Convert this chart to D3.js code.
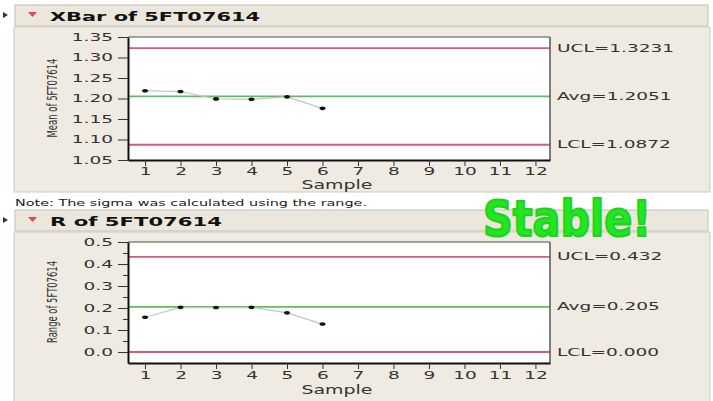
<!DOCTYPE html>
<html><head><meta charset="utf-8">
<script src="https://cdn.jsdelivr.net/npm/d3@7"></script>
<style>
body{margin:0;background:#fff}
svg{display:block}
text{font-family:"DejaVu Sans",sans-serif}
</style>
</head><body>
<svg id="c" width="713" height="401"></svg>
<script>
// ---- data ----
const samples = [1, 2, 3, 4, 5, 6];
const xbarValues = [1.219, 1.217, 1.199, 1.198, 1.204, 1.176];
const rangeValues = [0.158, 0.203, 0.202, 0.203, 0.178, 0.127];
const sampleTicks = [1, 2, 3, 4, 5, 6, 7, 8, 9, 10, 11, 12];
const xbarTicks = [1.05, 1.10, 1.15, 1.20, 1.25, 1.30, 1.35];
const rangeTicks = [0.0, 0.1, 0.2, 0.3, 0.4, 0.5];
const rangeMinorTicks = [0.05, 0.15, 0.25, 0.35, 0.45];
const xbarLimitValues = [1.3231, 1.2051, 1.0872];
const xbarLimitLabels = ["UCL=1.3231", "Avg=1.2051", "LCL=1.0872"];
const rangeLimitValues = [0.432, 0.205, 0.000];
const rangeLimitLabels = ["UCL=0.432", "Avg=0.205", "LCL=0.000"];
const limitKinds = ["limit", "center", "limit"];

const svg = d3.select("#c");
const STRETCH = 1.85;
function stretch(sel, f) {
  sel.each(function () {
    const l = this.getComputedTextLength();
    d3.select(this).attr("textLength", l * f).attr("lengthAdjust", "spacingAndGlyphs");
  });
}

function panel(cfg) {
  const g = svg.append("g");
  // header bar
  g.append("rect").attr("x", 15).attr("y", cfg.hy).attr("width", 693).attr("height", 21)
    .attr("fill", "#ebe7dc").attr("stroke", "#c4c0b4");
  g.append("path").attr("d", `M3,${cfg.hy + 7} L8,${cfg.hy + 10} L3,${cfg.hy + 13}Z`).attr("fill", "#334");
  g.append("path").attr("d", `M28,${cfg.hy + 7} L37,${cfg.hy + 7} L32.5,${cfg.hy + 12}Z`).attr("fill", "#e04858");
  g.append("text").attr("x", 50).attr("y", cfg.hy + 16).attr("font-size", 13).attr("font-weight", "bold")
    .attr("fill", "#111").text(cfg.title).attr("textLength", cfg.titleW).attr("lengthAdjust", "spacingAndGlyphs");
  // body
  g.append("rect").attr("x", 14).attr("y", cfg.hy + 22).attr("width", 696).attr("height", cfg.bh)
    .attr("fill", "#efebe2").attr("stroke", "#cdc9bd");

  const L = 128, R = 550;
  const x = d3.scaleLinear().domain([0.52, 12.41]).range([L, R]);
  const y = d3.scaleLinear().domain(cfg.ydom).range([cfg.bottom, cfg.top]);

  g.append("rect").attr("x", L).attr("y", cfg.top).attr("width", R - L).attr("height", cfg.bottom - cfg.top)
    .attr("fill", "#fff");

  // control lines
  g.selectAll(".cl").data(cfg.limits).join("line")
    .attr("x1", L).attr("x2", R)
    .attr("y1", d => y(d)).attr("y2", d => y(d))
    .attr("stroke", (d, i) => limitKinds[i] === "center" ? "#5cbf5c" : "#d95a74")
    .attr("stroke-width", 1.8);

  // connecting line and points
  g.append("path").datum(cfg.values)
    .attr("d", d3.line().x((d, i) => x(samples[i])).y(d => y(d)))
    .attr("fill", "none").attr("stroke", "#c4c4c4").attr("stroke-width", 1.2);
  g.selectAll(".pt").data(cfg.values).join("ellipse")
    .attr("cx", (d, i) => x(samples[i])).attr("cy", d => y(d))
    .attr("rx", 3).attr("ry", 1.8).attr("fill", "#111");

  // frame
  g.append("line").attr("x1", L).attr("x2", R).attr("y1", cfg.top).attr("y2", cfg.top)
    .attr("stroke", "#7d8a7d").attr("stroke-width", 1.5);
  g.append("line").attr("x1", R).attr("x2", R).attr("y1", cfg.top).attr("y2", cfg.bottom)
    .attr("stroke", "#555").attr("stroke-width", 1.5);

  // y axis
  const ya = g.append("g").attr("transform", `translate(${L},0)`)
    .call(d3.axisLeft(y).tickValues(cfg.yticks).tickFormat(cfg.fmt).tickSize(10).tickPadding(5).tickSizeOuter(0));
  if (cfg.minor) {
    g.append("g").attr("transform", `translate(${L},0)`)
      .call(d3.axisLeft(y).tickValues(cfg.minor).tickFormat("").tickSize(5).tickSizeOuter(0))
      .call(s => s.select(".domain").remove())
      .selectAll("line").attr("stroke", "#333");
  }
  ya.select(".domain").attr("stroke", "#111").attr("stroke-width", 2);
  ya.selectAll(".tick line").attr("stroke", "#333");
  ya.selectAll("text").attr("font-size", 10).attr("fill", "#333").attr("font-family", "DejaVu Sans").call(stretch, STRETCH);

  // x axis
  const xa = g.append("g").attr("transform", `translate(0,${cfg.bottom})`)
    .call(d3.axisBottom(x).tickValues(sampleTicks).tickFormat(d3.format("d")).tickSize(6).tickPadding(cfg.xpad).tickSizeOuter(0));
  xa.select(".domain").attr("stroke", "#111").attr("stroke-width", 2);
  xa.selectAll(".tick line").attr("stroke", "#333");
  xa.selectAll("text").attr("font-size", 10).attr("fill", "#333").attr("font-family", "DejaVu Sans").call(stretch, STRETCH);

  g.append("text").attr("x", 337).attr("y", cfg.sampleY).attr("text-anchor", "middle")
    .attr("font-size", 12).attr("fill", "#333").text("Sample")
    .attr("textLength", 71).attr("lengthAdjust", "spacingAndGlyphs");

  // y label
  g.append("text").attr("transform", `translate(57,${cfg.ylabY}) scale(1.6,1) rotate(-90)`)
    .attr("text-anchor", "middle").attr("font-size", 8.5).attr("fill", "#333").text(cfg.ylabel)
    .attr("textLength", cfg.ylabW).attr("lengthAdjust", "spacingAndGlyphs");

  // limit labels
  g.selectAll(".ll").data(cfg.limitLabels).join("text")
    .attr("x", 557).attr("y", (d, i) => y(cfg.limits[i])).attr("dy", "0.35em")
    .attr("font-size", 10).attr("fill", "#333").text(d => d).call(stretch, STRETCH);
}

panel({
  hy: 5, bh: 165, title: "XBar of 5FT07614", titleW: 210,
  top: 37, bottom: 160, ydom: [1.05, 1.35], yticks: xbarTicks, fmt: d3.format(".2f"),
  values: xbarValues, limits: xbarLimitValues, limitLabels: xbarLimitLabels,
  xpad: 2, sampleY: 189, ylabel: "Mean of 5FT07614", ylabY: 98, ylabW: 79
});

svg.append("text").attr("x", 15).attr("y", 206).attr("font-size", 9).attr("fill", "#222")
  .text("Note: The sigma was calculated using the range.")
  .attr("textLength", 352).attr("lengthAdjust", "spacingAndGlyphs");

panel({
  hy: 210, bh: 187, title: "R of 5FT07614", titleW: 172,
  top: 242, bottom: 363, ydom: [-0.05, 0.5], yticks: rangeTicks, minor: rangeMinorTicks, fmt: d3.format(".1f"),
  values: rangeValues, limits: rangeLimitValues, limitLabels: rangeLimitLabels,
  xpad: 3, sampleY: 394, ylabel: "Range of 5FT07614", ylabY: 302, ylabW: 82
});

// "Stable!" annotation
svg.append("text").attr("x", 483).attr("y", 236)
  .attr("font-family", "Liberation Sans, Arial, sans-serif").attr("font-weight", "bold")
  .attr("font-size", 50).attr("fill", "#22e622").attr("stroke", "#1fd21f").attr("stroke-width", 2.2)
  .attr("stroke-linejoin", "round")
  .text("Stable!").attr("textLength", 168).attr("lengthAdjust", "spacingAndGlyphs");
</script>
</body></html>
